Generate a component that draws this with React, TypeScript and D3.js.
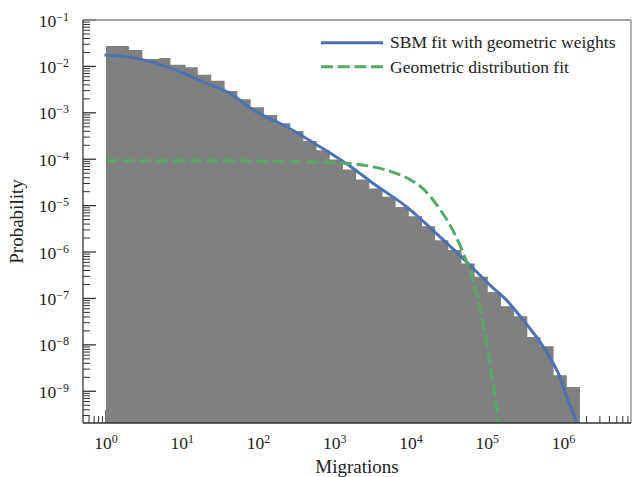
import * as d3 from "d3";

// histogram: bin edges (integer-rounded log bins) and probability per bin
const binEdges = [1, 2, 3, 5, 7, 11, 16, 24, 36, 53, 79, 118, 176, 261, 389, 579, 862, 1282, 1909, 2840, 4227, 6291, 9362, 13932, 20736, 30857, 45920, 68340, 101700, 151400, 225300, 335300, 498900, 742500, 1105000, 1644000];
const binProb = [0.0275, 0.0225, 0.0144, 0.0152, 0.01086, 0.00955, 0.0066, 0.00491, 0.00294, 0.00195, 0.00131, 8.93e-4, 5.93e-4, 4.04e-4, 2.46e-4, 1.57e-4, 9.9e-5, 6.04e-5, 3.67e-5, 2.35e-5, 1.55e-5, 9.4e-6, 5.94e-6, 3.61e-6, 1.8e-6, 1.1e-6, 5.68e-7, 2.92e-7, 1.38e-7, 6.81e-8, 4.14e-8, 1.48e-8, 9.3e-9, 2.21e-9, 1.24e-9];

// SBM fit with geometric weights
const sbmX = [1, 2.06, 4.62, 9.34, 20.9, 42.3, 85.5, 234, 641, 1751, 3203, 8783, 24010, 65620, 108600, 179800, 297100, 492000, 734800, 899500, 1101000, 1489000, 1645000];
const sbmY = [0.0176, 0.0157, 0.01164, 0.00767, 0.00432, 0.00262, 0.001146, 5.0e-4, 1.85e-4, 6.34e-5, 3.01e-5, 9.4e-6, 2.12e-6, 4.43e-7, 1.93e-7, 9.16e-8, 3.4e-8, 1.16e-8, 3.95e-9, 2.03e-9, 7.5e-10, 2.07e-10, 1.1e-10];

// geometric distribution fit
const geoX = [1, 31.3, 1172, 3203, 5304, 8783, 14500, 24010, 32480, 39760, 51050, 65620, 80350, 98400, 120000, 139600, 146900];
const geoY = [9.25e-5, 9.25e-5, 8.3e-5, 6.84e-5, 5.5e-5, 3.98e-5, 2.29e-5, 8.3e-6, 3.8e-6, 2.0e-6, 7.6e-7, 2.4e-7, 6.3e-8, 1.12e-8, 1.41e-9, 2.09e-10, 1.05e-10];

const xTickExps = [0, 1, 2, 3, 4, 5, 6];
const yTickExps = [-1, -2, -3, -4, -5, -6, -7, -8, -9];
const legendLabels = ["SBM fit with geometric weights", "Geometric distribution fit"];

const W = 632, H = 477;
const L = 83, R = 631, T = 20, B = 423;
const FONT = "'Liberation Serif', 'Times New Roman', serif";
const BLUE = "#4c72b0", GREEN = "#55a868";

export default function App() {
  const x = d3.scaleLog().domain([0.5, 7.68e6]).range([L, R]);
  const y = d3.scaleLog().domain([2.07e-10, 0.1]).range([B, T]);

  const [xMin, xMax] = x.domain();
  const [yMin, yMax] = y.domain();

  const xMinor: number[] = [];
  for (let e = -1; e <= 6; e++)
    for (let m = 2; m <= 9; m++) {
      const v = m * 10 ** e;
      if (v > xMin && v < xMax) xMinor.push(v);
    }
  const yMinor: number[] = [];
  for (let e = -10; e <= -2; e++)
    for (let m = 2; m <= 9; m++) {
      const v = m * 10 ** e;
      if (v > yMin && v < yMax) yMinor.push(v);
    }

  // histogram as one outline, no seams between bars
  let hist = `M${x(binEdges[0])},${B}`;
  binProb.forEach((p, i) => {
    hist += `L${x(binEdges[i])},${y(p)}L${x(binEdges[i + 1])},${y(p)}`;
  });
  hist += `L${x(binEdges[binEdges.length - 1])},${B}Z`;

  const line = d3.line<[number, number]>()
    .x(d => x(d[0]))
    .y(d => y(d[1]))
    .curve(d3.curveMonotoneX);
  const sbmPath = line(sbmX.map((v, i) => [v, sbmY[i]]))!;
  const geoPath = line(geoX.map((v, i) => [v, geoY[i]]))!;

  return (
    <svg width={W} height={H} style={{ position: "absolute", left: 0, top: 0, background: "#fff" }} fontFamily={FONT}>
      <defs>
        <clipPath id="plot">
          <rect x={L} y={T} width={R - L} height={B - T} />
        </clipPath>
      </defs>

      {/* ticks (below the bars) */}
      <g stroke="#333">
        {yTickExps.map(e => (
          <line key={"ym" + e} x1={L} x2={L + 13} y1={y(10 ** e)} y2={y(10 ** e)} strokeWidth={1.3} />
        ))}
        {yMinor.map((v, i) => (
          <line key={"yn" + i} x1={L} x2={L + 7} y1={y(v)} y2={y(v)} strokeWidth={1} />
        ))}
        {xTickExps.map(e => (
          <line key={"xm" + e} x1={x(10 ** e)} x2={x(10 ** e)} y1={B} y2={B - 13} strokeWidth={1.3} />
        ))}
        {xMinor.map((v, i) => (
          <line key={"xn" + i} x1={x(v)} x2={x(v)} y1={B} y2={B - 7} strokeWidth={1} />
        ))}
      </g>

      <path d={hist} fill="#808080" />

      <g clipPath="url(#plot)" fill="none">
        <path d={sbmPath} stroke={BLUE} strokeWidth={3} strokeLinecap="square" strokeLinejoin="round" />
        <path d={geoPath} stroke={GREEN} strokeWidth={3} strokeDasharray="12,4.7" />
      </g>

      {/* spines */}
      <line x1={L} x2={R} y1={T} y2={T} stroke="#888" strokeWidth={1.3} />
      <line x1={R} x2={R} y1={T} y2={B} stroke="#888" strokeWidth={1.3} />
      <line x1={L} x2={L} y1={T} y2={B} stroke="#333" strokeWidth={1.3} />
      <line x1={L} x2={R} y1={B} y2={B} stroke="#333" strokeWidth={1.3} />

      {/* tick labels */}
      <g fill="#222" fontSize={17.5}>
        {yTickExps.map(e => (
          <text key={"yl" + e} x={69} y={y(10 ** e) + 6.5} textAnchor="end">
            <tspan>10</tspan>
            <tspan dy={-6} fontSize={12}>{"\u2212" + Math.abs(e)}</tspan>
          </text>
        ))}
        {xTickExps.map(e => (
          <text key={"xl" + e} x={x(10 ** e)} y={449} textAnchor="middle">
            <tspan>10</tspan>
            <tspan dy={-6} fontSize={12}>{e}</tspan>
          </text>
        ))}
      </g>

      {/* axis labels */}
      <text x={(L + R) / 2} y={473} textAnchor="middle" fontSize={19} fill="#222">Migrations</text>
      <text transform={`translate(23,${(T + B) / 2}) rotate(-90)`} textAnchor="middle" fontSize={19} fill="#222">Probability</text>

      {/* legend */}
      <g fontSize={17.5} fill="#222">
        <line x1={321} x2={383} y1={42.7} y2={42.7} stroke={BLUE} strokeWidth={3} />
        <text x={390} y={48}>{legendLabels[0]}</text>
        <line x1={321} x2={383} y1={66.7} y2={66.7} stroke={GREEN} strokeWidth={3} strokeDasharray="12,4.7" />
        <text x={390} y={72.5}>{legendLabels[1]}</text>
      </g>
    </svg>
  );
}
